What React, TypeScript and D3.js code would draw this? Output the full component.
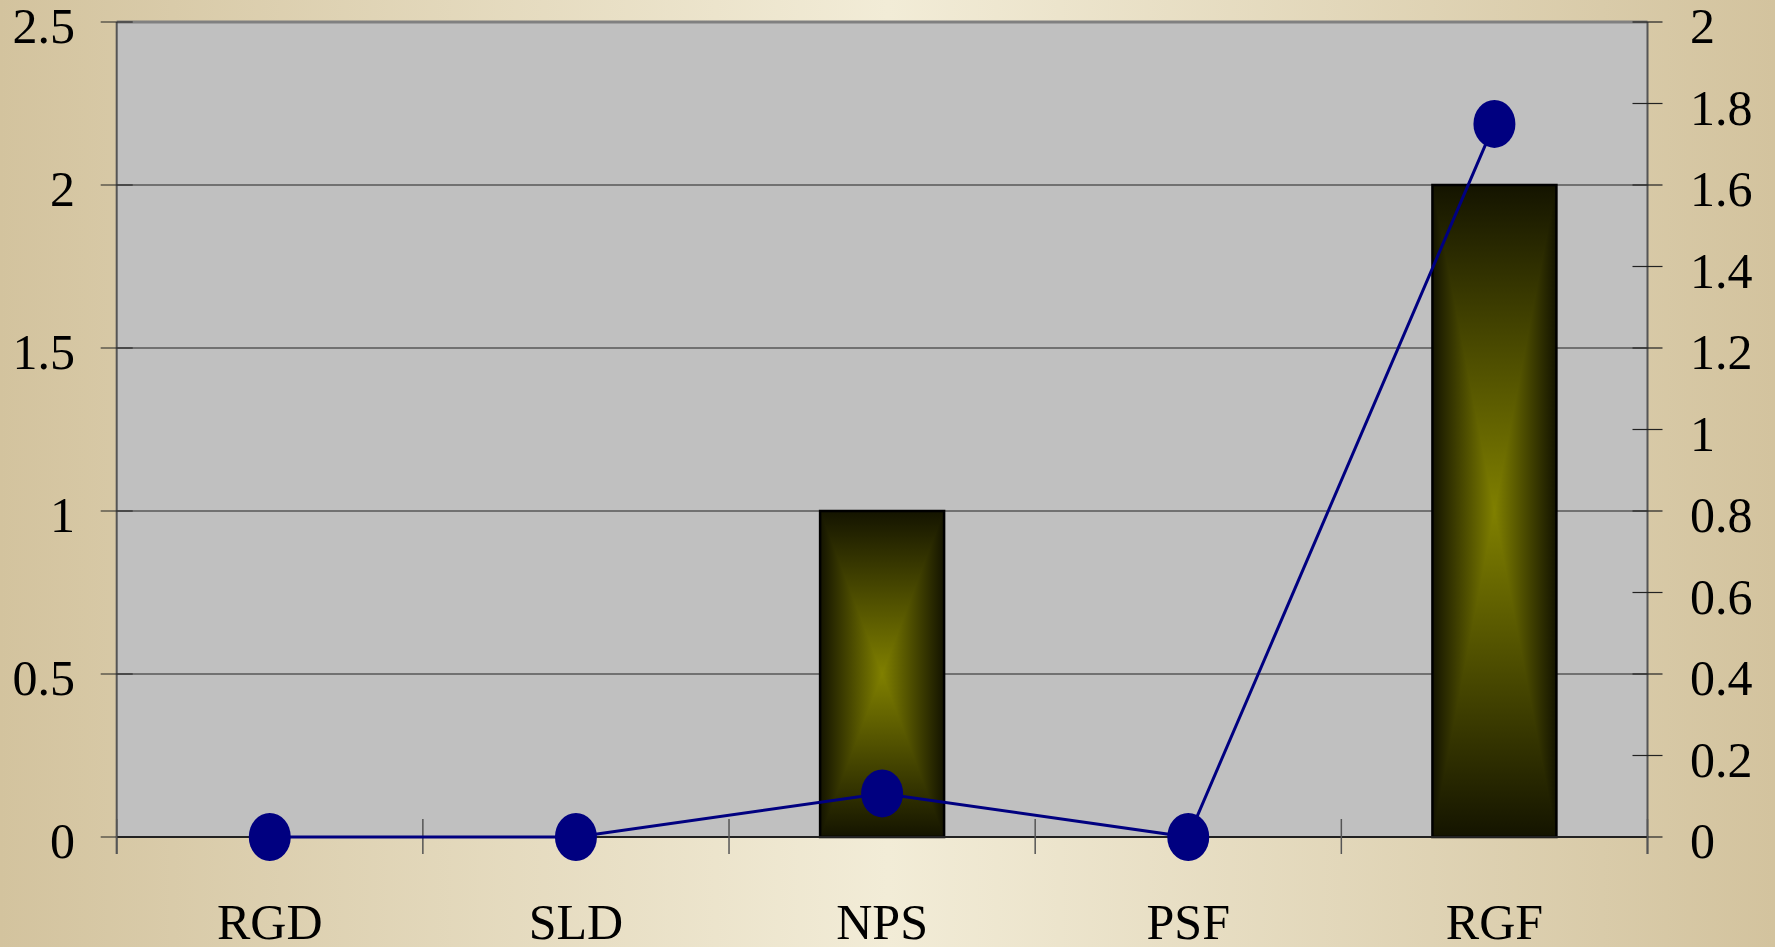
import React from "react";
import * as d3 from "d3";

const categories = ["RGD", "SLD", "NPS", "PSF", "RGF"];
const barValues = [0, 0, 1, 0, 2];
const lineValues = [0, 0, 0.107, 0, 1.75];
const leftTicks = [0, 0.5, 1, 1.5, 2, 2.5];
const rightTicks = [0, 0.2, 0.4, 0.6, 0.8, 1, 1.2, 1.4, 1.6, 1.8, 2];

const W = 1775;
const H = 947;
const L = 116.7;
const R = 1647.5;
const T = 22;
const B = 837;
const FONT = "'Liberation Serif', 'DejaVu Serif', serif";

export default function App() {
  const x = d3.scaleBand<string>().domain(categories).range([L, R]).padding(0);
  const yL = d3.scaleLinear().domain([0, 2.5]).range([B, T]);
  const yR = d3.scaleLinear().domain([0, 2]).range([B, T]);
  const bw = x.bandwidth() * 0.405;
  const cx = (c: string) => (x(c) as number) + x.bandwidth() / 2;

  const line = d3
    .line<number>()
    .x((_, i) => cx(categories[i]))
    .y((d) => yR(d));

  const boundaries = categories.map((c) => x(c) as number).concat([R]);

  const dark = "#141400";
  const mid = "#808000";

  return (
    <svg
      width={W}
      height={H}
      style={{ position: "absolute", left: 0, top: 0, display: "block" }}
    >
      <defs>
        <linearGradient id="bg" x1="0" y1="0" x2="1" y2="0">
          <stop offset="0" stopColor="#d3c39e" />
          <stop offset="0.5" stopColor="#f2ecd7" />
          <stop offset="1" stopColor="#d3c39e" />
        </linearGradient>
      </defs>
      <rect x={0} y={0} width={W} height={H} fill="url(#bg)" />
      <rect x={L} y={T} width={R - L} height={B - T} fill="#c0c0c0" />
      {leftTicks
        .filter((t) => t > 0 && t < 2.5)
        .map((t) => (
          <line key={"g" + t} x1={L} x2={R} y1={yL(t)} y2={yL(t)} stroke="#222" strokeWidth={1} />
        ))}
      <line x1={L} x2={R} y1={T} y2={T} stroke="#808080" strokeWidth={3} />
      {barValues.map((v, i) => {
        if (v <= 0) return null;
        const c = categories[i];
        const x0 = cx(c) - bw / 2;
        const x1 = cx(c) + bw / 2;
        const y0 = yL(v);
        const y1 = yL(0);
        const mx = (x0 + x1) / 2;
        const my = (y0 + y1) / 2;
        const gId = "bar" + i;
        return (
          <g key={c}>
            <defs>
              <linearGradient id={gId + "h"} gradientUnits="userSpaceOnUse" x1={x0} y1={0} x2={x1} y2={0}>
                <stop offset="0" stopColor={dark} />
                <stop offset="0.5" stopColor={mid} />
                <stop offset="1" stopColor={dark} />
              </linearGradient>
              <linearGradient id={gId + "v"} gradientUnits="userSpaceOnUse" x1={0} y1={y0} x2={0} y2={y1}>
                <stop offset="0" stopColor={dark} />
                <stop offset="0.5" stopColor={mid} />
                <stop offset="1" stopColor={dark} />
              </linearGradient>
            </defs>
            <rect x={x0} y={y0} width={x1 - x0} height={y1 - y0} fill={`url(#${gId}v)`} />
            <polygon points={`${x0},${y0} ${x0},${y1} ${mx},${my}`} fill={`url(#${gId}h)`} />
            <polygon points={`${x1},${y0} ${x1},${y1} ${mx},${my}`} fill={`url(#${gId}h)`} />
            <rect x={x0} y={y0} width={x1 - x0} height={y1 - y0} fill="none" stroke="#000" strokeWidth={2.5} />
          </g>
        );
      })}
      <line x1={L} x2={L} y1={T} y2={B + 17} stroke="#555" strokeWidth={2} />
      {leftTicks.map((t) => (
        <g key={"l" + t}>
          <line x1={L - 16} x2={L + 16} y1={yL(t)} y2={yL(t)} stroke="#222" strokeWidth={1.2} />
          <text x={75} y={yL(t) + 21} textAnchor="end" fontFamily={FONT} fontSize={50} fill="#000">
            {t}
          </text>
        </g>
      ))}
      <line x1={R} x2={R} y1={T} y2={B + 17} stroke="#555" strokeWidth={2} />
      {rightTicks.map((t) => (
        <g key={"r" + t}>
          <line x1={R - 15} x2={R + 15} y1={yR(t)} y2={yR(t)} stroke="#222" strokeWidth={1.2} />
          <text x={1690} y={yR(t) + 21} textAnchor="start" fontFamily={FONT} fontSize={50} fill="#000">
            {t}
          </text>
        </g>
      ))}
      <line x1={L} x2={R} y1={B} y2={B} stroke="#222" strokeWidth={2} />
      {boundaries.map((bx, i) => (
        <line key={"b" + i} x1={bx} x2={bx} y1={B - 18} y2={B + 17} stroke="#555" strokeWidth={1.5} />
      ))}
      {categories.map((c) => (
        <text key={"c" + c} x={cx(c)} y={939} textAnchor="middle" fontFamily={FONT} fontSize={50} fill="#000">
          {c}
        </text>
      ))}
      <path d={line(lineValues) || ""} fill="none" stroke="#000080" strokeWidth={3} />
      {lineValues.map((v, i) => (
        <ellipse key={"d" + i} cx={cx(categories[i])} cy={yR(v)} rx={21} ry={24} fill="#000080" />
      ))}
    </svg>
  );
}
